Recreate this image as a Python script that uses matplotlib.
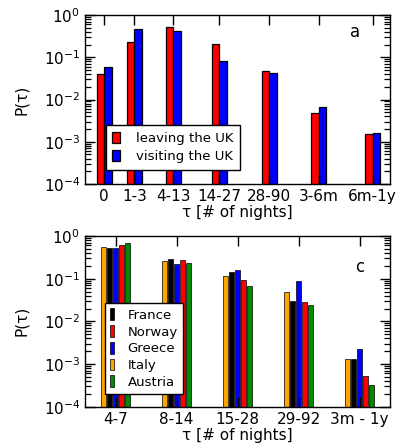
import matplotlib
matplotlib.use("Agg")
import matplotlib.pyplot as plt
import matplotlib.ticker as mticker
import numpy as np

plt.rcParams['font.family'] = ['DejaVu Sans']

# panel a: trips leaving / visiting the UK
cats_a = ['0', '1-3', '4-13', '14-27', '28-90', '3-6m', '6m-1y']
pos_a = [19, 49.3, 88.3, 134.3, 184.3, 233.7, 287.7]  # group centres (non-uniform in original)
leaving = [0.039, 0.23, 0.53, 0.21, 0.047, 0.0046, 0.0014]
visiting = [0.060, 0.46, 0.41, 0.083, 0.042, 0.0067, 0.0015]

# panel c: per-country distributions
cats_c = ['4-7', '8-14', '15-28', '29-92', '3m - 1y']
italy = [0.56, 0.265, 0.118, 0.049, 0.00123]
france = [0.52, 0.29, 0.14, 0.030, 0.00123]
greece = [0.52, 0.225, 0.157, 0.087, 0.00214]
norway = [0.60, 0.27, 0.095, 0.028, 0.00042]
austria = [0.67, 0.23, 0.069, 0.0246, 0.000218]

fig = plt.figure(figsize=(3.99, 4.47), dpi=100)
W, H = 399, 447
axa = fig.add_axes([85 / W, 1 - 184 / H, 305 / W, 169 / H])
axc = fig.add_axes([85 / W, 1 - 406.7 / H, 305 / W, 170.7 / H])


def style(ax):
    ax.set_yscale('log')
    ax.set_ylim(1e-4, 1)
    ax.yaxis.set_major_locator(mticker.LogLocator(base=10, numticks=10))
    ax.yaxis.set_minor_locator(mticker.LogLocator(base=10, subs=np.arange(2, 10), numticks=20))
    ax.yaxis.set_minor_formatter(mticker.NullFormatter())
    ax.tick_params(which='both', direction='in', right=True, top=True, labelsize=11, width=1.0)
    ax.tick_params(which='major', length=7)
    ax.tick_params(which='minor', length=4.5, width=0.9)
    ax.tick_params(axis='x', which='minor', top=False, bottom=False)
    for s in ax.spines.values():
        s.set_linewidth(1.0)
    ax.set_ylabel('P(τ)', fontsize=11)
    ax.yaxis.set_label_coords(-0.185, 0.5)
    ax.set_xlabel('τ [# of nights]', fontsize=11)
    ax.xaxis.set_label_coords(0.5, -0.125)


# --- panel a ---
w = 7.5
pa = np.array(pos_a)
axa.bar(pa - w / 2, leaving, width=w, bottom=1e-4, color='#ff0000', edgecolor='black', lw=0.9, label='leaving the UK')
axa.bar(pa + w / 2, visiting, width=w, bottom=1e-4, color='#0000ff', edgecolor='black', lw=0.9, label='visiting the UK')
axa.set_xlim(0, 305)
axa.set_xticks(pa)
axa.set_xticklabels(cats_a)
style(axa)
axa.text(0.885, 0.9, 'a', transform=axa.transAxes, fontsize=12, ha='center', va='center')
lg = axa.legend(loc='lower left', bbox_to_anchor=(0.068, 0.083), borderaxespad=0, fontsize=9.5,
                handlelength=0.6, handleheight=0.9, handletextpad=1.2, fancybox=False,
                framealpha=1, edgecolor='black', borderpad=0.5, labelspacing=0.4)
lg.get_frame().set_linewidth(1.0)

# --- panel c ---
pc = np.arange(1, len(cats_c) + 1)
step = 0.098
bw = 0.073
series = [(italy, '#ffa500', 'Italy'), (france, '#000000', 'France'), (greece, '#0000ff', 'Greece'),
          (norway, '#ff0000', 'Norway'), (austria, '#008c00', 'Austria')]
handles = {}
for i, (vals, col, name) in enumerate(series):
    handles[name] = axc.bar(pc + (i - 2) * step, vals, width=bw, bottom=1e-4, color=col,
                            edgecolor='black', lw=0.5, label=name)
axc.set_xlim(0.5, 5.5)
axc.set_xticks(pc)
axc.set_xticklabels(cats_c)
style(axc)
axc.text(0.9, 0.82, 'c', transform=axc.transAxes, fontsize=12, ha='center', va='center')
order = ['France', 'Norway', 'Greece', 'Italy', 'Austria']
lg2 = axc.legend([handles[n] for n in order], order, loc='lower left', bbox_to_anchor=(0.066, 0.074),
                 borderaxespad=0, fontsize=9.5, handlelength=0.3, handleheight=1.0, handletextpad=1.0,
                 fancybox=False, framealpha=1, edgecolor='black', borderpad=0.4, labelspacing=0.25)
lg2.get_frame().set_linewidth(1.0)

fig.savefig('out.png', dpi=100)
